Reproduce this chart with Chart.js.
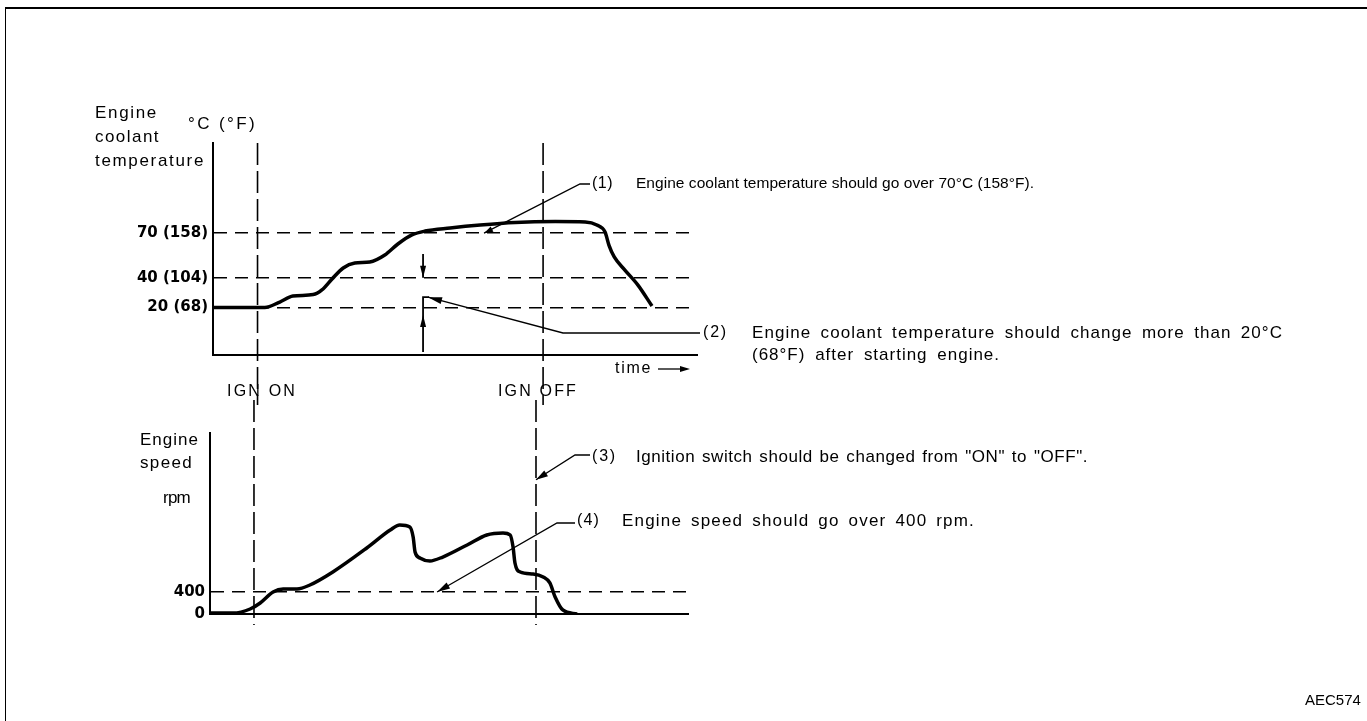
<!DOCTYPE html>
<html>
<head>
<meta charset="utf-8">
<script src="https://cdn.jsdelivr.net/npm/chart.js@4.4.1/dist/chart.umd.min.js"></script>
<style>
body { margin: 0; background: #fff; width: 1367px; height: 721px; overflow: hidden; position: relative; }
#frame { position: absolute; left: 5px; top: 7px; right: -2px; bottom: -2px; border-top: 2px solid #000; border-left: 1px solid #000; }
canvas { position: absolute; left: 0; }
#tempChart { top: 0; }
#rpmChart { top: 400px; }
#code { position: absolute; left: 1305px; top: 691px; font: 15px 'Liberation Sans', Arial, sans-serif; color: #000; }
</style>
</head>
<body>
<div id="frame"></div>
<canvas id="tempChart" width="1367" height="405"></canvas>
<canvas id="rpmChart" width="1367" height="321"></canvas>
<div id="code">AEC574</div>
<script>
// time runs 0..100 (no units on the original), ignition marks on it
var timeMin = 0, timeMax = 100;
var ignOn = 9.2, ignOff = 68.2;

// coolant temperature, deg C
var tempTime   = [0, 10.7, 13.8, 16.5, 20.7, 22.5, 24.6, 26.9, 29.3, 32.4, 35.5, 38.2, 41.1, 43.8, 49, 55.2, 62.4, 70.7, 76.9, 79.3, 81, 81.8, 82.9, 85.1, 87.8, 90.7];
var tempValues = [20, 20, 23.7, 27.7, 28.7, 31.8, 39.2, 46.6, 49.9, 50.6, 55.3, 62.7, 68.8, 71.4, 73.5, 75.5, 77.2, 77.8, 77.5, 75.5, 70.8, 62, 54, 45.2, 35.1, 21];
var tempTicks = [20, 40, 70];
var tempTickLabels = ['20 (68)', '40 (104)', '70 (158)'];

// engine speed, rpm
var rpmTime   = [0, 4.8, 8.4, 10.5, 13.2, 15.3, 18.2, 20.9, 25.7, 32.8, 37.7, 39.7, 41.8, 42.5, 42.9, 43.9, 46, 48.7, 53.8, 57.9, 61.3, 62.8, 63.4, 63.8, 64.9, 67.6, 69.7, 71.1, 72.2, 73.8, 76.8];
var rpmValues = [18, 18, 91, 200, 400, 455, 455, 527, 764, 1200, 1527, 1618, 1582, 1400, 1127, 1018, 964, 1036, 1255, 1436, 1473, 1436, 1218, 927, 764, 727, 673, 564, 309, 73, 0];
var rpmTicks = [0, 400];
var rpmTickLabels = ['0', '400'];

Chart.defaults.font.family = "'Liberation Sans', Arial, sans-serif";
Chart.defaults.color = '#000';

function toPoints(xs, ys) {
    return xs.map(function (x, i) { return { x: x, y: ys[i] }; });
}

function seg(ctx, pts) {
    ctx.beginPath();
    ctx.moveTo(pts[0][0], pts[0][1]);
    for (var i = 1; i < pts.length; i++) ctx.lineTo(pts[i][0], pts[i][1]);
    ctx.stroke();
}

// filled arrow head, tip at (x, y), coming from (fx, fy)
function head(ctx, x, y, fx, fy, len, half) {
    var a = Math.atan2(y - fy, x - fx);
    var bx = x - len * Math.cos(a), by = y - len * Math.sin(a);
    ctx.beginPath();
    ctx.moveTo(x, y);
    ctx.lineTo(bx + half * Math.sin(a), by - half * Math.cos(a));
    ctx.lineTo(bx - half * Math.sin(a), by + half * Math.cos(a));
    ctx.closePath();
    ctx.fill();
}

// text stretched to the width it has in the original
function say(ctx, text, x, y, w, size) {
    ctx.font = (size || 16) + "px 'Liberation Sans', Arial, sans-serif";
    ctx.letterSpacing = '0px';
    ctx.wordSpacing = '0px';
    var m = ctx.measureText(text).width;
    if (w) {
        var extra = w - m;
        var gaps = text.split(' ').length - 1;
        var wordPart = gaps > 1 && extra > 0 ? 0.3 : 0;
        ctx.letterSpacing = (extra * (1 - wordPart) / text.length) + 'px';
        if (wordPart) ctx.wordSpacing = (extra * wordPart / gaps) + 'px';
    }
    ctx.textBaseline = 'middle';
    ctx.textAlign = 'left';
    ctx.fillText(text, x, y);
    ctx.letterSpacing = '0px';
    ctx.wordSpacing = '0px';
}

function ignLines(chart, y1, y2) {
    var ctx = chart.ctx, xs = chart.scales.x;
    ctx.lineWidth = 1.6;
    ctx.setLineDash([22, 6]);
    [ignOn, ignOff].forEach(function (t) {
        var x = xs.getPixelForValue(t);
        seg(ctx, [[x, y1], [x, y2]]);
    });
    ctx.setLineDash([]);
}

var tempNotes = {
    id: 'tempNotes',
    afterDraw: function (chart) {
        var ctx = chart.ctx, xs = chart.scales.x, ys = chart.scales.y, area = chart.chartArea;
        ctx.save();
        ctx.strokeStyle = '#000';
        ctx.fillStyle = '#000';
        ignLines(chart, area.top, chart.height);

        ctx.lineWidth = 1.3;
        // (1) over 70 C
        var t1 = [xs.getPixelForValue(56), ys.getPixelForValue(70)];
        seg(ctx, [t1, [580, 184], [590, 184]]);
        head(ctx, t1[0], t1[1], 580, 184, 9, 3);
        say(ctx, '(1)', 592, 184, 21, 16);
        say(ctx, 'Engine coolant temperature should go over 70\u00B0C (158\u00B0F).', 636, 184, 398, 15.5);

        // (2) change of more than 20 C
        var x2 = xs.getPixelForValue(43.4);
        ctx.lineWidth = 1.8;
        seg(ctx, [[x2, ys.getPixelForValue(56)], [x2, ys.getPixelForValue(40)]]);
        head(ctx, x2, ys.getPixelForValue(40), x2, 0, 12, 3);
        seg(ctx, [[x2, area.bottom - 3], [x2, ys.getPixelForValue(27)], [x2 + 6, ys.getPixelForValue(27)]]);
        head(ctx, x2, ys.getPixelForValue(15), x2, area.bottom, 12, 3);
        ctx.lineWidth = 1.3;
        var t2 = [x2 + 5, ys.getPixelForValue(27)];
        seg(ctx, [t2, [563, 333], [700, 333]]);
        head(ctx, t2[0], t2[1], 563, 333, 14, 3.5);
        say(ctx, '(2)', 703, 333, 25, 16);
        say(ctx, 'Engine coolant temperature should change more than 20\u00B0C', 752, 333, 531, 17);
        say(ctx, '(68\u00B0F) after starting engine.', 752, 355, 248, 17);

        // time arrow
        say(ctx, 'time', 615, 369, 37, 16);
        ctx.lineWidth = 1.3;
        seg(ctx, [[658, 369], [682, 369]]);
        head(ctx, 690, 369, 658, 369, 10, 3);

        // axis titles
        say(ctx, 'Engine', 95, 113, 63, 17);
        say(ctx, 'coolant', 95, 137, 65, 17);
        say(ctx, 'temperature', 95, 161, 110, 17);
        say(ctx, '\u00B0C (\u00B0F)', 188, 124, 69, 17);

        say(ctx, 'IGN ON', 227, 392, 70, 16);
        say(ctx, 'IGN OFF', 498, 392, 80, 16);
        ctx.restore();
    }
};

var rpmNotes = {
    id: 'rpmNotes',
    afterDraw: function (chart) {
        var ctx = chart.ctx, xs = chart.scales.x, ys = chart.scales.y, area = chart.chartArea;
        ctx.save();
        ctx.strokeStyle = '#000';
        ctx.fillStyle = '#000';
        ignLines(chart, 0, area.bottom + 11);

        ctx.lineWidth = 1.3;
        // (3) ignition switched off
        var t3 = [xs.getPixelForValue(ignOff), ys.getPixelForValue(2440)];
        seg(ctx, [t3, [575, 55], [590, 55]]);
        head(ctx, t3[0], t3[1], 575, 55, 12, 3.5);
        say(ctx, '(3)', 592, 57, 25, 16);
        say(ctx, 'Ignition switch should be changed from "ON" to "OFF".', 636, 57, 452, 17);

        // (4) over 400 rpm
        var t4 = [xs.getPixelForValue(47.5), ys.getPixelForValue(400)];
        seg(ctx, [t4, [557, 123], [575, 123]]);
        head(ctx, t4[0], t4[1], 557, 123, 13, 3.5);
        say(ctx, '(4)', 577, 121, 23, 16);
        say(ctx, 'Engine speed should go over 400 rpm.', 622, 121, 353, 17);

        say(ctx, 'Engine', 140, 40, 59, 17);
        say(ctx, 'speed', 140, 63, 53, 17);
        say(ctx, 'rpm', 163, 98, 27, 17);
        ctx.restore();
    }
};

function xAxis(height) {
    return {
        type: 'linear', min: timeMin, max: timeMax,
        ticks: { display: false },
        grid: { display: false },
        border: { display: true, color: '#000', width: 2 },
        afterFit: function (scale) { scale.height = height; }
    };
}

function yAxis(min, max, width, ticks, labels) {
    return {
        type: 'linear', min: min, max: max,
        afterFit: function (scale) { scale.width = width; },
        afterBuildTicks: function (scale) {
            scale.ticks = ticks.map(function (v) { return { value: v }; });
        },
        ticks: {
            padding: 5,
            color: '#000',
            font: { family: "'DejaVu Sans', sans-serif", size: 15, weight: 'bold' },
            callback: function (value) {
                var i = ticks.indexOf(value);
                return i < 0 ? '' : labels[i];
            }
        },
        grid: {
            drawTicks: false,
            lineWidth: 1.6,
            color: function (c) { return c.tick && c.tick.value === 0 ? 'rgba(0,0,0,0)' : '#000'; }
        },
        border: { display: true, color: '#000', width: 2, dash: [13, 8] }
    };
}

var lineStyle = {
    borderColor: '#000',
    borderWidth: 3.5,
    pointRadius: 0,
    fill: false,
    cubicInterpolationMode: 'monotone'
};

var tempChart = new Chart(document.getElementById('tempChart'), {
    type: 'line',
    data: {
        datasets: [Object.assign({ label: 'Engine coolant temperature', data: toPoints(tempTime, tempValues) }, lineStyle)]
    },
    options: {
        responsive: false,
        animation: false,
        layout: { padding: { top: 143, right: 670, bottom: 0, left: 0 } },
        scales: {
            x: xAxis(50),
            y: yAxis(-11.9, 130.6, 213, tempTicks, tempTickLabels)
        },
        plugins: { legend: { display: false }, tooltip: { enabled: false } }
    },
    plugins: [tempNotes]
});

var rpmChart = new Chart(document.getElementById('rpmChart'), {
    type: 'line',
    data: {
        datasets: [Object.assign({ label: 'Engine speed', data: toPoints(rpmTime, rpmValues) }, lineStyle)]
    },
    options: {
        responsive: false,
        animation: false,
        layout: { padding: { top: 33, right: 679, bottom: 0, left: 0 } },
        scales: {
            x: xAxis(107),
            y: yAxis(0, 3290, 210, rpmTicks, rpmTickLabels)
        },
        plugins: { legend: { display: false }, tooltip: { enabled: false } }
    },
    plugins: [rpmNotes]
});
</script>
</body>
</html>
